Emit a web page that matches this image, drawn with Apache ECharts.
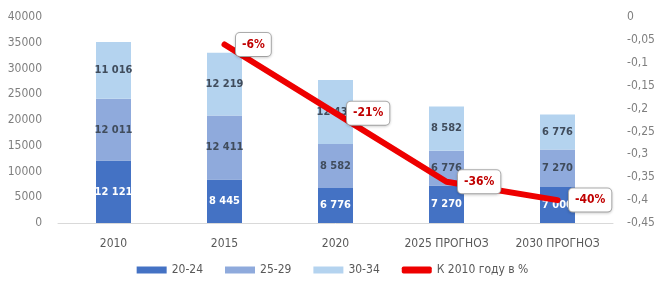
<!DOCTYPE html>
<html>
<head>
<meta charset="utf-8">
<script src="https://cdn.jsdelivr.net/npm/echarts@6/dist/echarts.min.js"></script>
<style>
  html, body { margin: 0; padding: 0; background: #fff; }
  #chart { width: 665px; height: 299px; }
</style>
</head>
<body>
<div id="chart"></div>
<script>
const years = ['2010', '2015', '2020', '2025 ПРОГНОЗ', '2030 ПРОГНОЗ']
const age2024 = [12121, 8445, 6776, 7270, 7000]
const age2529 = [12011, 12411, 8582, 6776, 7270]
const age3034 = [11016, 12219, 12433, 8582, 6776]
const changeTo2010 = [null, -0.06, -0.21, -0.36, -0.40]

const FONT = '"DejaVu Sans Condensed", "Liberation Sans Narrow", sans-serif'
const fmtThousands = v => String(v).replace(/\B(?=(\d{3})+(?!\d))/g, ' ')

const chart = echarts.init(document.getElementById('chart'))

const barLabel = color => ({
  show: true,
  position: 'inside',
  color: color,
  fontFamily: FONT,
  fontSize: 11,
  fontWeight: 'bold',
  formatter: p => fmtThousands(p.value),
})

chart.setOption({
  backgroundColor: '#fff',
  textStyle: { fontFamily: FONT },
  grid: { left: 58, right: 52, top: 17, bottom: 76 },
  legend: {
    bottom: 18,
    left: 'center',
    itemWidth: 30,
    itemHeight: 7,
    itemGap: 22,
    textStyle: { color: '#595959', fontSize: 12, fontFamily: FONT },
    data: [
      { name: '20-24', icon: 'rect' },
      { name: '25-29', icon: 'rect' },
      { name: '30-34', icon: 'rect' },
      { name: 'К 2010 году в %', icon: 'roundRect' },
    ],
  },
  xAxis: {
    type: 'category',
    data: years,
    axisLine: { lineStyle: { color: '#d9d9d9', width: 1 } },
    axisTick: { show: false },
    axisLabel: { color: '#595959', fontSize: 12, interval: 0, margin: 15, fontFamily: FONT },
  },
  yAxis: [
    {
      type: 'value',
      min: 0,
      max: 40000,
      interval: 5000,
      splitLine: { show: false },
      axisLine: { show: false },
      axisTick: { show: false },
      axisLabel: {
        color: '#7f7f7f',
        fontSize: 12,
        margin: 16,
        fontFamily: FONT,
        formatter: v => String(v),
      },
    },
    {
      type: 'value',
      min: -0.45,
      max: 0,
      interval: 0.05,
      splitLine: { show: false },
      axisLine: { show: false },
      axisTick: { show: false },
      axisLabel: {
        color: '#7f7f7f',
        fontSize: 12,
        margin: 14,
        fontFamily: FONT,
        formatter: v => (v === 0 ? '0' : String(+v.toFixed(2)).replace('.', ',')),
      },
    },
  ],
  series: [
    {
      name: '20-24',
      type: 'bar',
      stack: 'age',
      barWidth: 35,
      itemStyle: { color: '#4472c4' },
      label: barLabel('#ffffff'),
      data: age2024,
    },
    {
      name: '25-29',
      type: 'bar',
      stack: 'age',
      itemStyle: { color: '#8faadc' },
      label: barLabel('#404c5c'),
      data: age2529,
    },
    {
      name: '30-34',
      type: 'bar',
      stack: 'age',
      itemStyle: { color: '#b4d3ef' },
      label: barLabel('#404c5c'),
      data: age3034,
    },
    {
      name: 'К 2010 году в %',
      type: 'line',
      yAxisIndex: 1,
      showSymbol: true,
      symbol: 'circle',
      symbolSize: 1,
      z: 5,
      itemStyle: { color: '#ee0000' },
      lineStyle: { color: '#ee0000', width: 6, cap: 'round' },
      label: {
        show: true,
        position: 'right',
        distance: 11,
        color: '#c00000',
        fontFamily: FONT,
        fontSize: 12,
        fontWeight: 'bold',
        backgroundColor: '#fff',
        borderColor: '#b0b0b0',
        borderWidth: 1,
        borderRadius: 4,
        padding: [6, 6, 5, 6],
        shadowColor: 'rgba(0,0,0,0.15)',
        shadowBlur: 3,
        shadowOffsetY: 1,
        formatter: p => Math.round(p.value * 100) + '%',
      },
      data: changeTo2010,
    },
  ],
})
</script>
</body>
</html>
